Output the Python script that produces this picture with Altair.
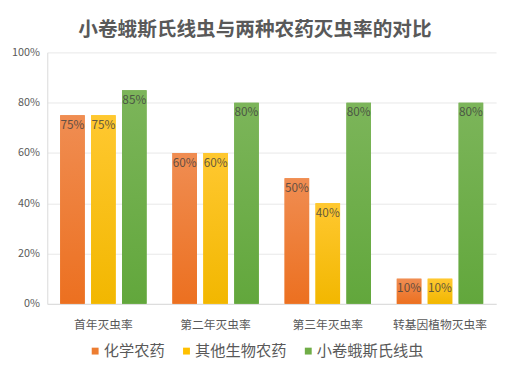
import altair as alt
import pandas as pd

categories = ["首年灭虫率", "第二年灭虫率", "第三年灭虫率", "转基因植物灭虫率"]
series = ["化学农药", "其他生物农药", "小卷蛾斯氏线虫"]
chem = [0.75, 0.60, 0.50, 0.10]
bio = [0.75, 0.60, 0.40, 0.10]
nema = [0.85, 0.80, 0.80, 0.80]
colors = ["#ED7D31", "#FFC000", "#70AD47"]
grad_top = ["#F08D52", "#FFC830", "#7CB55A"]
grad_bot = ["#EC7020", "#F2B700", "#62A73C"]

rows = []
for s, vals in zip(series, [chem, bio, nema]):
    for c, v in zip(categories, vals):
        rows.append({"cat": c, "s": s, "v": v, "label": f"{round(v*100)}%"})
df = pd.DataFrame(rows)

font = "Noto Sans CJK SC"

x = alt.X("cat:N", sort=categories, title=None,
          scale=alt.Scale(paddingInner=0.23, paddingOuter=0.115),
          axis=alt.Axis(labelAngle=0, labelFontSize=12, labelColor="#595959",
                        labelFont=font, ticks=False, domainColor="#D9D9D9",
                        labelPadding=16))
xo = alt.XOffset("s:N", sort=series, scale=alt.Scale(paddingInner=0.206, paddingOuter=0))
y = alt.Y("v:Q", title=None,
          scale=alt.Scale(domain=[0, 1]),
          axis=alt.Axis(format=".0%", values=[0, 0.2, 0.4, 0.6, 0.8, 1.0],
                        labelFontSize=11, labelColor="#595959", labelFont=font,
                        ticks=False, domain=True, domainColor="#D9D9D9",
                        gridColor="#E8E8E8", labelPadding=8))

base = alt.Chart(df)

legend_layer = base.mark_bar().encode(
    x=x, xOffset=xo, y=y,
    color=alt.Color("s:N", sort=series, title=None,
                    scale=alt.Scale(domain=series, range=colors),
                    legend=alt.Legend(orient="none", direction="horizontal",
                                      legendX=41, legendY=296, padding=0,
                                      symbolType="square", symbolSize=49,
                                      labelFontSize=15.5, labelColor="#595959",
                                      labelFont=font, columnPadding=14,
                                      labelOffset=1, symbolStrokeWidth=0)),
)

layers = [legend_layer]
for i, s in enumerate(series):
    grad = alt.Gradient(gradient="linear", x1=0, x2=0, y1=0, y2=1,
                        stops=[alt.GradientStop(color=grad_top[i], offset=0),
                               alt.GradientStop(color=grad_bot[i], offset=1)])
    layers.append(
        base.transform_filter(alt.datum.s == s).mark_bar(fill=grad).encode(
            x=x, xOffset=xo, y=y)
    )

text = base.mark_text(baseline="top", dy=5, fontSize=12, color="#404040",
                      opacity=0.8, font=font).encode(
    x=x, xOffset=xo, y=y, text="label:N")
layers.append(text)

chart = alt.layer(*layers).properties(
    width=457, height=256,
    padding={"left": 3, "top": 9, "right": 5, "bottom": 0},
    title=alt.Title("小卷蛾斯氏线虫与两种农药灭虫率的对比", fontSize=20,
                    font=font, fontWeight="bold", color="#595959",
                    anchor="middle", offset=7, dx=-17),
).configure_view(stroke=None)

chart.save("out.html", embed_options={"renderer": "svg", "actions": False})
